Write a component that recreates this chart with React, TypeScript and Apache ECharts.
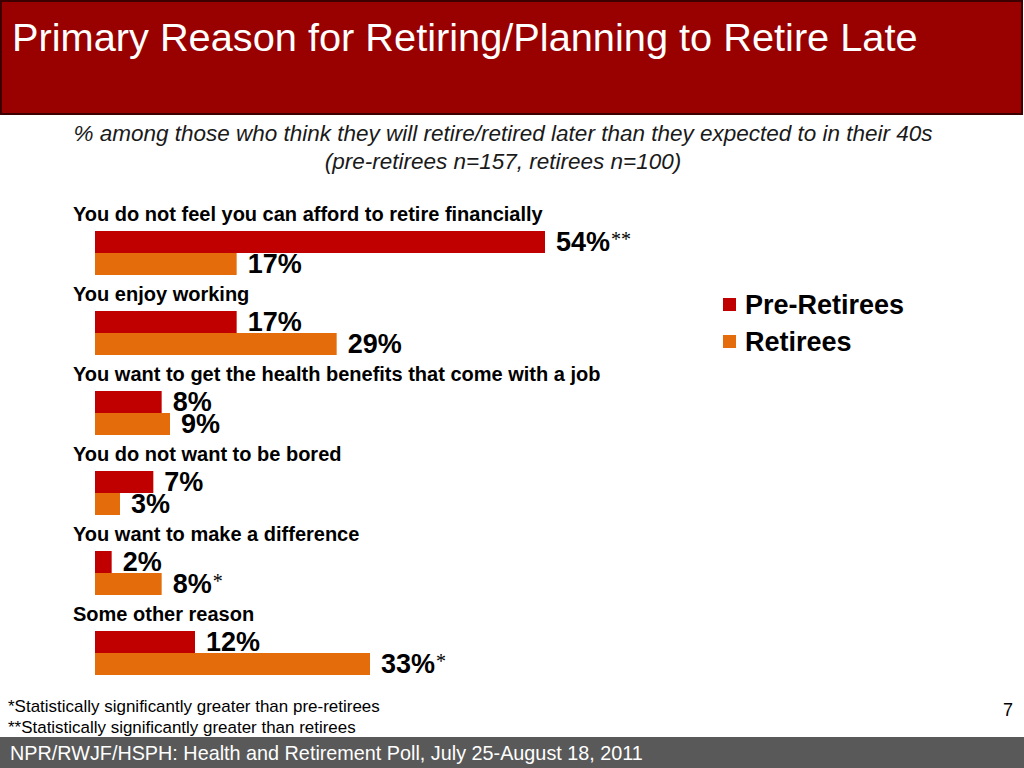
import React, { useEffect, useRef } from "react";
import * as echarts from "echarts";

const categories = [
  "You do not feel you can afford to retire financially",
  "You enjoy working",
  "You want to get the health benefits that come with a job",
  "You do not want to be bored",
  "You want to make a difference",
  "Some other reason",
];
const seriesNames = ["Pre-Retirees", "Retirees"];
const preRetirees = [54, 17, 8, 7, 2, 12];
const retirees = [17, 29, 9, 3, 8, 33];
const preMarks = ["**", "", "", "", "", ""];
const retMarks = ["", "", "", "", "*", "*"];

const titleText = "Primary Reason for Retiring/Planning to Retire Late";
const subtitleLines = [
  "% among those who think they will retire/retired later than they expected to in their 40s",
  "(pre-retirees n=157, retirees n=100)",
];
const footnotes = [
  "*Statistically significantly greater than pre-retirees",
  "**Statistically significantly greater than retirees",
];
const sourceText = "NPR/RWJF/HSPH: Health and Retirement Poll, July 25-August 18, 2011";
const pageNumber = "7";

const SANS = "'Liberation Sans', Arial, Helvetica, sans-serif";

function fitScale(text: string, font: string, target: number): number {
  const ctx = document.createElement("canvas").getContext("2d");
  if (!ctx) return 1;
  ctx.font = font;
  const w = ctx.measureText(text).width;
  return w > 0 ? target / w : 1;
}

export default function App() {
  const ref = useRef<HTMLDivElement>(null);
  useEffect(() => {
    if (!ref.current) return;
    const chart = echarts.init(ref.current, undefined, { renderer: "svg" });

    const titleFont = `38px ${SANS}`;
    const footFont = `17px ${SANS}`;
    const srcFont = `20px ${SANS}`;

    const labelFor = (marks: string[]) => ({
      show: true,
      position: "right" as const,
      distance: 11,
      formatter: (p: any) => {
        const m = marks[p.dataIndex];
        return m ? `{v|${p.value}%}{s|${m}}` : `{v|${p.value}%}`;
      },
      rich: {
        v: { fontSize: 27, fontWeight: "bold", fontFamily: SANS, color: "#000" },
        s: {
          fontSize: 20,
          fontFamily: "'Liberation Serif', 'Times New Roman', serif",
          color: "#000",
          verticalAlign: "top",
          padding: [0, 0, 0, 1],
        },
      },
    });

    const option: any = {
      animation: false,
      backgroundColor: "#ffffff",
      grid: { left: 95, top: 213, width: 500, height: 480, containLabel: false },
      xAxis: {
        type: "value",
        min: 0,
        max: 60,
        show: false,
      },
      yAxis: {
        type: "category",
        data: categories,
        inverse: true,
        axisLine: { show: false },
        axisTick: { show: false },
        splitLine: { show: false },
        axisLabel: {
          interval: 0,
          align: "left",
          verticalAlign: "bottom",
          margin: 22,
          padding: [0, 0, 29, 0],
          fontSize: 20,
          fontWeight: "bold",
          fontFamily: SANS,
          color: "#000",
        },
      },
      legend: {
        orient: "vertical",
        left: 723,
        top: 291,
        icon: "rect",
        itemWidth: 13,
        itemHeight: 13,
        itemGap: 10,
        padding: 0,
        data: seriesNames,
        textStyle: {
          fontSize: 27,
          fontWeight: "bold",
          fontFamily: SANS,
          color: "#000",
          padding: [0, 0, 0, 4],
        },
      },
      series: [
        {
          name: seriesNames[0],
          type: "bar",
          data: preRetirees,
          barWidth: 22,
          barGap: "0%",
          itemStyle: { color: "#C00000" },
          label: labelFor(preMarks),
        },
        {
          name: seriesNames[1],
          type: "bar",
          data: retirees,
          barWidth: 22,
          barGap: "0%",
          itemStyle: { color: "#E46C0A" },
          label: labelFor(retMarks),
        },
      ],
      graphic: [
        {
          type: "rect",
          shape: { x: 1, y: 1, width: 1021, height: 113 },
          style: { fill: "#990000", stroke: "#3d0000", lineWidth: 2 },
          z: 0,
        },
        {
          type: "text",
          x: 12,
          y: 38,
          scaleX: fitScale(titleText, titleFont, 906),
          style: {
            text: titleText,
            font: titleFont,
            fill: "#ffffff",
            textAlign: "left",
            textVerticalAlign: "middle",
          },
          z: 10,
        },
        ...subtitleLines.map((t, i) => ({
          type: "text",
          x: 503,
          y: 133 + i * 28,
          style: {
            text: t,
            font: `italic 22.5px ${SANS}`,
            fill: "#1a1a1a",
            textAlign: "center",
            textVerticalAlign: "middle",
          },
        })),
        ...footnotes.map((t, i) => ({
          type: "text",
          x: 8,
          y: 706 + i * 21,
          scaleX: fitScale(t, footFont, i === 0 ? 372 : 348),
          style: {
            text: t,
            font: footFont,
            fill: "#000",
            textAlign: "left",
            textVerticalAlign: "middle",
          },
        })),
        {
          type: "text",
          x: 1008,
          y: 710,
          style: {
            text: pageNumber,
            font: `18px ${SANS}`,
            fill: "#000",
            textAlign: "center",
            textVerticalAlign: "middle",
          },
        },
        {
          type: "rect",
          shape: { x: 0, y: 737, width: 1024, height: 31 },
          style: { fill: "#595959" },
        },
        {
          type: "text",
          x: 10,
          y: 753,
          scaleX: fitScale(sourceText, srcFont, 633),
          style: {
            text: sourceText,
            font: srcFont,
            fill: "#ffffff",
            textAlign: "left",
            textVerticalAlign: "middle",
          },
        },
      ],
    };

    chart.setOption(option);
    return () => chart.dispose();
  }, []);

  return (
    <div
      ref={ref}
      style={{ position: "fixed", left: 0, top: 0, width: 1024, height: 768 }}
    />
  );
}
